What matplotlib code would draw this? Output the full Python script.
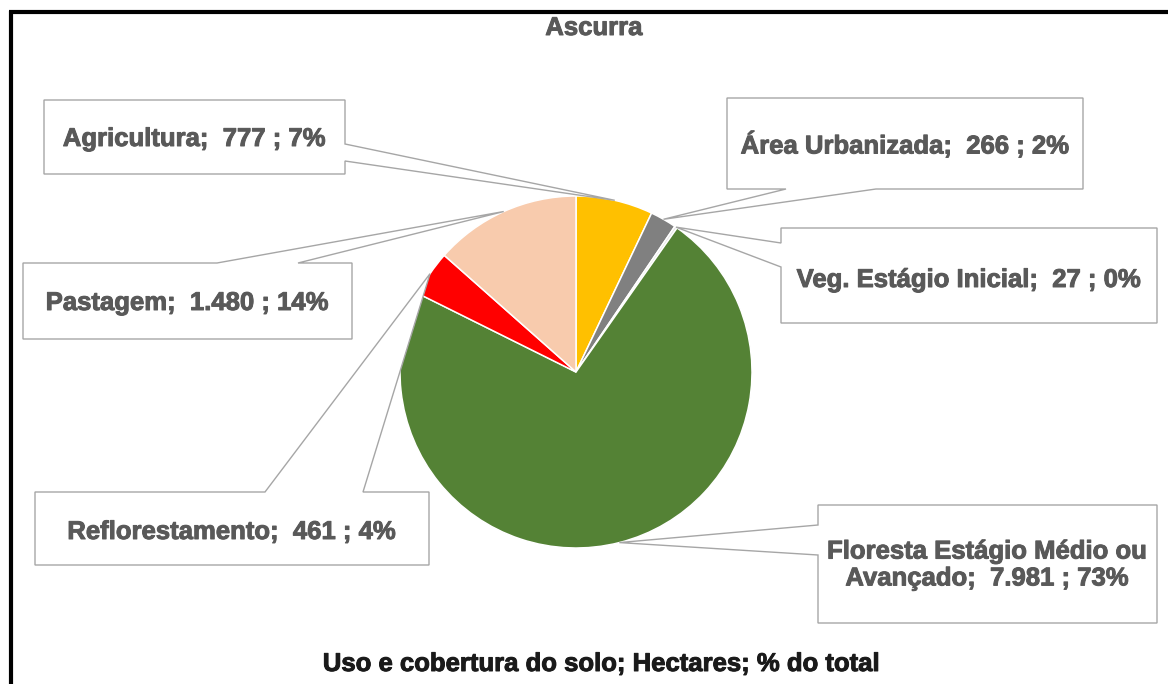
import numpy as np
import matplotlib.pyplot as plt
import matplotlib.patheffects as pe
from matplotlib.patches import Polygon

plt.rcParams['font.family'] = ['Liberation Sans', 'DejaVu Sans']

categories = ['Agricultura', 'Área Urbanizada', 'Veg. Estágio Inicial',
              'Floresta Estágio Médio ou\nAvançado', 'Reflorestamento', 'Pastagem']
hectares = [777, 266, 27, 7981, 461, 1480]
colors = ['#FFC000', '#808080', '#E4E4E4', '#548235', '#FF0000', '#F8CBAD']

title = 'Ascurra'
subtitle = 'Uso e cobertura do solo; Hectares; % do total'

W, H = 1168, 684
TXT = '#595959'
LINE = '#A6A6A6'


def Y(y):
    # pixel rows counted from the top
    return H - y


def fmt_num(v):
    return f'{v:,}'.replace(',', '.')


def percents(values):
    # whole percentages that still add up to 100 (largest remainder)
    raw = np.array(values, dtype=float) / sum(values) * 100
    out = np.floor(raw).astype(int)
    rest = 100 - out.sum()
    for k in np.argsort(-(raw - out))[:rest]:
        out[k] += 1
    return out


fig = plt.figure(figsize=(W / 100, H / 100), dpi=100)
ax = fig.add_axes([0, 0, 1, 1])

cx, cy, r = 576, Y(372), 176
wedges, _ = ax.pie(hectares, colors=colors, startangle=90, counterclock=False,
                   center=(cx, cy), radius=r,
                   wedgeprops=dict(edgecolor='white', linewidth=1.1))
for w in wedges:
    w.set_zorder(1)

ax.set_xlim(0, W)
ax.set_ylim(0, H)
ax.set_aspect('equal')
ax.axis('off')

pcts = percents(hectares)
heavy = [pe.withStroke(linewidth=0.7, foreground=TXT)]

# callout boxes: (x0, y0, x1, y1), side of pointer, pointer base positions, text y
boxes = [
    ((44, 100, 345, 174), 'right', (144, 161), 139),
    ((727, 98, 1083, 189), 'bottom', (786, 876), 145),
    ((781, 228, 1157, 323), 'left', (243, 267), 280),
    ((818, 505, 1157, 623), 'left', (525, 555), 565),
    ((35, 492, 429, 565), 'top', (265, 363), 532),
    ((23, 263, 352, 339), 'top', (217, 298), 303),
]

for i, (w, (box, side, base, ty)) in enumerate(zip(wedges, boxes)):
    mid = np.deg2rad((w.theta1 + w.theta2) / 2)
    tip = (w.center[0] + w.r * np.cos(mid), w.center[1] + w.r * np.sin(mid))
    x0, y0, x1, y1 = box
    a, b = base
    if side == 'right':
        pts = [(x0, y0), (x1, y0), (x1, a), 'tip', (x1, b), (x1, y1), (x0, y1)]
    elif side == 'left':
        pts = [(x0, y0), (x1, y0), (x1, y1), (x0, y1), (x0, b), 'tip', (x0, a)]
    elif side == 'bottom':
        pts = [(x0, y0), (x1, y0), (x1, y1), (b, y1), 'tip', (a, y1), (x0, y1)]
    else:
        pts = [(x0, y0), (a, y0), 'tip', (b, y0), (x1, y0), (x1, y1), (x0, y1)]
    verts = [tip if p == 'tip' else (p[0], Y(p[1])) for p in pts]
    ax.add_patch(Polygon(verts, closed=True, facecolor='white', edgecolor=LINE,
                         linewidth=1.0, zorder=3))

    label = f'{categories[i]};  {fmt_num(hectares[i])} ; {pcts[i]}%'
    ax.text((x0 + x1) / 2, Y(ty), label, ha='center', va='center',
            fontsize=18.5, fontweight='bold', color=TXT, zorder=4,
            linespacing=1.15, path_effects=heavy)

ax.text(594, Y(28), title, ha='center', va='center', fontsize=18.5,
        fontweight='bold', color=TXT, path_effects=heavy)
ax.text(602, Y(664), subtitle, ha='center', va='center', fontsize=18.5,
        fontweight='bold', color='#1a1a1a',
        path_effects=[pe.withStroke(linewidth=0.7, foreground='#1a1a1a')])

# chart frame (only top and left edges fall inside the image)
ax.plot([9, W], [Y(12), Y(12)], color='black', linewidth=3, clip_on=False,
        solid_capstyle='butt')
ax.plot([10.5, 10.5], [Y(10.5), 0], color='black', linewidth=3, clip_on=False,
        solid_capstyle='butt')

fig.savefig('out.png', dpi=100, facecolor='white')
